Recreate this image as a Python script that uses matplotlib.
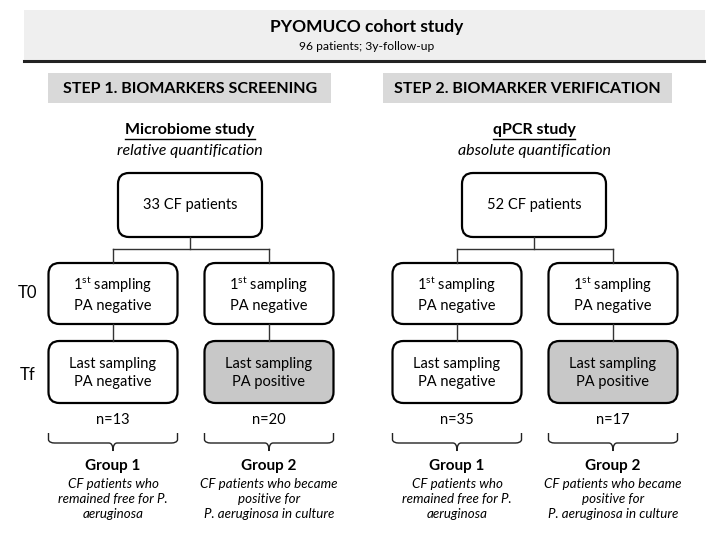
import matplotlib.pyplot as plt
from matplotlib.patches import FancyBboxPatch, Rectangle, PathPatch
from matplotlib.path import Path

plt.rcParams['font.family'] = ['Lato', 'DejaVu Sans']
plt.rcParams['mathtext.fontset'] = 'custom'
plt.rcParams['mathtext.rm'] = 'Lato'

# DATOS
titulo = 'PYOMUCO cohort study'
subtitulo = '96 patients; 3y-follow-up'
pasos = ['STEP 1. BIOMARKERS SCREENING', 'STEP 2. BIOMARKER VERIFICATION']
estudios = ['Microbiome study', 'qPCR study']
cuantif = ['relative quantification', 'absolute quantification']
pacientes = [33, 52]
n_grupos = [[13, 20], [35, 17]]
grupos = ['Group 1', 'Group 2']
desc = ['CF patients who\nremained free for P.\naeruginosa',
        'CF patients who became\npositive for\nP. aeruginosa in culture']
t0_txt = ['$\\mathrm{1^{st}}$ sampling\nPA negative'] * 2
tf_txt = ['Last sampling\nPA negative', 'Last sampling\nPA positive']
tf_color = ['white', '#c8c8c8']

# posiciones (pixeles)
centro_paso = [190, 534]
centro_hijos = [[113, 269], [457, 613]]
ancho_hijo = 129

fig = plt.figure(figsize=(7.2, 5.4), dpi=100)
ax = fig.add_axes([0, 0, 1, 1])
ax.set_xlim(0, 720)
ax.set_ylim(540, 0)
ax.axis('off')


def caja(x, y, w, h, fc='white'):
    ax.add_patch(FancyBboxPatch((x, y), w, h,
                                boxstyle='round,pad=0,rounding_size=11',
                                fc=fc, ec='black', lw=1.6))


def llave(x0, x1, y0):
    xm = (x0 + x1) / 2
    verts = [(x0, y0), (x0, y0 + 7), (x0 + 1, y0 + 10), (x0 + 6, y0 + 10),
             (xm - 4, y0 + 10), (xm, y0 + 10), (xm, y0 + 18),
             (xm, y0 + 10), (xm + 4, y0 + 10),
             (x1 - 6, y0 + 10), (x1 - 1, y0 + 10), (x1, y0 + 7), (x1, y0)]
    codes = [Path.MOVETO, Path.LINETO, Path.CURVE3, Path.CURVE3,
             Path.LINETO, Path.CURVE3, Path.CURVE3,
             Path.CURVE3, Path.CURVE3,
             Path.LINETO, Path.CURVE3, Path.CURVE3, Path.LINETO]
    ax.add_patch(PathPatch(Path(verts, codes), fc='none', ec='#222222', lw=1.0))


# cabecera
ax.add_patch(Rectangle((24, 10), 681, 50, fc='#efefef', ec='none'))
ax.plot([24, 704], [61, 61], color='#222222', lw=2.2)
ax.text(367, 27, titulo, ha='center', va='center', fontsize=12.5, weight='bold')
ax.text(367, 47, subtitulo, ha='center', va='center', fontsize=8.7)

ax.add_patch(Rectangle((48, 73), 283, 30, fc='#d9d9d9', ec='none'))
ax.add_patch(Rectangle((383, 73), 289, 30, fc='#d9d9d9', ec='none'))
ax.text(190, 89, pasos[0], ha='center', va='center', fontsize=11.5, weight='bold')
ax.text(527, 89, pasos[1], ha='center', va='center', fontsize=11.5, weight='bold')

ax.text(28, 293, 'T0', ha='center', va='center', fontsize=12)
ax.text(28, 375, 'Tf', ha='center', va='center', fontsize=12)

for i in range(2):
    cx = centro_paso[i]
    t = ax.text(cx, 130, estudios[i], ha='center', va='center',
                fontsize=11.5, weight='bold')
    fig.canvas.draw()
    bb = t.get_window_extent().transformed(ax.transData.inverted())
    ax.plot([bb.x0, bb.x1], [139, 139], color='black', lw=1.0)
    ax.text(cx, 151, cuantif[i], ha='center', va='center', fontsize=11.5,
            style='italic')

    caja(cx - 72, 173, 144, 64)
    ax.text(cx, 205, f'{pacientes[i]} CF patients', ha='center', va='center',
            fontsize=10.5)

    h0, h1 = centro_hijos[i]
    ax.plot([cx, cx], [237, 249], color='#333333', lw=1.0)
    ax.plot([h0, h1], [249, 249], color='#333333', lw=1.0)

    for j, hx in enumerate(centro_hijos[i]):
        ax.plot([hx, hx], [249, 263], color='#333333', lw=1.0)
        caja(hx - ancho_hijo / 2, 263, ancho_hijo, 61)
        ax.text(hx, 294, t0_txt[j], ha='center', va='center', fontsize=10.5,
                linespacing=1.4)
        ax.plot([hx, hx], [324, 341], color='#333333', lw=1.0)
        caja(hx - ancho_hijo / 2, 341, ancho_hijo, 62, fc=tf_color[j])
        ax.text(hx, 373, tf_txt[j], ha='center', va='center', fontsize=10.5,
                linespacing=1.4)
        ax.text(hx, 420, f'n={n_grupos[i][j]}', ha='center', va='center',
                fontsize=10.5)
        llave(hx - ancho_hijo / 2, hx + ancho_hijo / 2, 433)
        ax.text(hx, 466, grupos[j], ha='center', va='center', fontsize=11,
                weight='bold')
        ax.text(hx, 499, desc[j], ha='center', va='center', fontsize=9.6,
                style='italic', linespacing=1.25)

fig.savefig('out.png', dpi=100)
